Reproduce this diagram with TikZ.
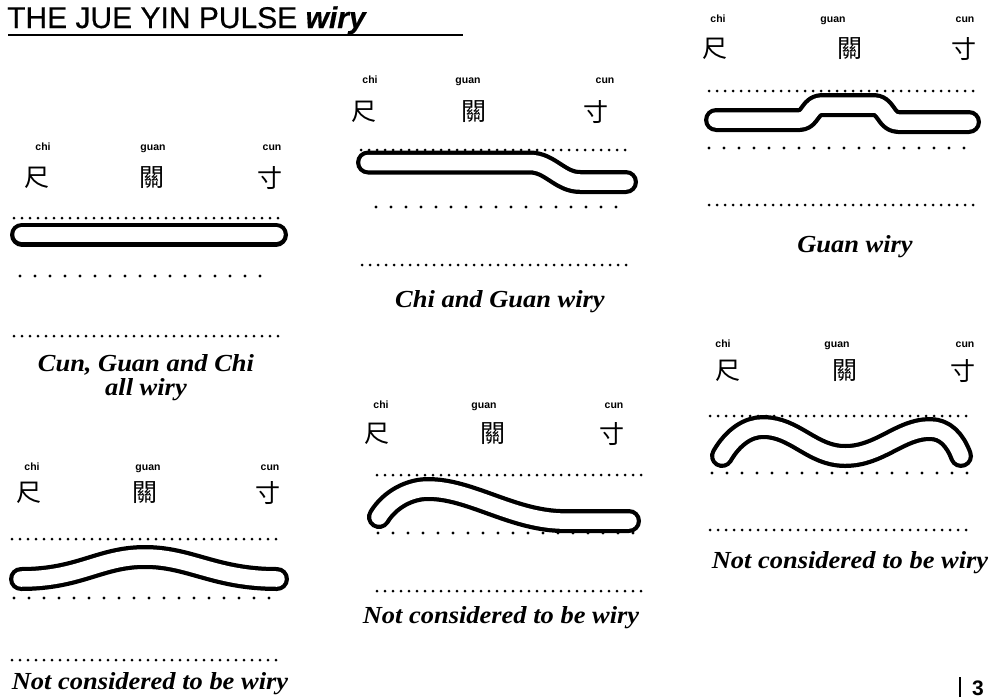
\documentclass[tikz,border=0pt]{standalone}
\usepackage{fontspec}
\setmainfont{Liberation Serif}
\setsansfont{Liberation Sans}
\newfontfamily\cjk{Noto Sans CJK TC}
\newfontfamily\capfont[FakeStretch=1.08]{Liberation Serif}
\newfontfamily\titlefont[FakeBold=0.5]{Liberation Sans}
\begin{document}
\begin{tikzpicture}[x=1pt,y=-1pt,
  pin/.style={font=\sffamily\bfseries\fontsize{10.5}{11}\selectfont, anchor=base},
  hz/.style={font=\cjk\fontsize{25}{25}\selectfont, anchor=center},
  captext/.style={font=\capfont\bfseries\itshape\fontsize{24.5}{23}\selectfont, align=center, anchor=base},
  densedots/.style={line width=3pt, line cap=round, dash pattern=on 0pt off 8pt},
  sparsedots/.style={line width=3.4pt, line cap=round, dash pattern=on 0pt off 15pt},
  tubeout/.style={line width=24pt, line cap=round, line join=round},
  tubein/.style={white, line width=15.5pt, line cap=round, line join=round}]
\useasboundingbox (0,0) rectangle (992,699);
% title
\node[anchor=base west, inner sep=0pt, font=\titlefont\fontsize{30}{30}\selectfont] (title) at (7,28) {THE JUE YIN PULSE \textbf{\textit{wiry}}};
\draw[line width=2.5pt] (8,35) -- (463,35);

% ---------- panel 1
\node[pin] (c1) at (43,150) {chi};
\node[pin] (g1) at (153,150) {guan};
\node[pin] (u1) at (272,150) {cun};
\node[hz] (hc1) at (37,178) {尺};
\node[hz] (hg1) at (152,178) {關};
\node[hz] (hu1) at (270,178) {寸};
\draw[densedots] (14,218) -- (285,218);
\draw[tubeout] (22,234.5) -- (276,234.5);
\draw[tubein] (22,234.5) -- (276,234.5);
\draw[sparsedots] (20,276) -- (272,276);
\draw[densedots] (14,336) -- (285,336);
\node[captext] (t1) at (146,371) {Cun, Guan and Chi};
\node[captext] (t1b) at (146,395) {all wiry};

% ---------- panel 2
\node[pin] (c2) at (370,83) {chi};
\node[pin] (g2) at (468,83) {guan};
\node[pin] (u2) at (605,83) {cun};
\node[hz] (hc2) at (364,112) {尺};
\node[hz] (hg2) at (474,112) {關};
\node[hz] (hu2) at (596,112) {寸};
\draw[densedots] (361,150) -- (632,150);
\draw[tubeout] (368,162.5) -- (530,162.5) .. controls (550,162.5) and (560,182) .. (580,182) -- (626,182);
\draw[tubein] (368,162.5) -- (530,162.5) .. controls (550,162.5) and (560,182) .. (580,182) -- (626,182);
\draw[sparsedots] (376,207) -- (620,207);
\draw[densedots] (362,265) -- (632,265);
\node[captext] (t2) at (500,307) {Chi and Guan wiry};

% ---------- panel 3
\node[pin] (c3) at (718,22) {chi};
\node[pin] (g3) at (833,22) {guan};
\node[pin] (u3) at (965,22) {cun};
\node[hz] (hc3) at (715,49) {尺};
\node[hz] (hg3) at (850,49) {關};
\node[hz] (hu3) at (964,49) {寸};
\draw[densedots] (709,91) -- (973,91);
\draw[tubeout] (716,120) -- (800,120) .. controls (810,120) and (810,105) .. (822,105) -- (874,105) .. controls (886,105) and (886,122) .. (898,122) -- (969,122);
\draw[tubein] (716,120) -- (800,120) .. controls (810,120) and (810,105) .. (822,105) -- (874,105) .. controls (886,105) and (886,122) .. (898,122) -- (969,122);
\draw[sparsedots] (709,148) -- (966,148);
\draw[densedots] (709,205) -- (973,205);
\node[captext] (t3) at (855,252) {Guan wiry};

% ---------- panel 4
\node[pin] (c4) at (32,470) {chi};
\node[pin] (g4) at (148,470) {guan};
\node[pin] (u4) at (270,470) {cun};
\node[hz] (hc4) at (29,493) {尺};
\node[hz] (hg4) at (145,493) {關};
\node[hz] (hu4) at (268,493) {寸};
\draw[densedots] (12,539) -- (280,539);
\draw[tubeout] (21,579) .. controls (80,579) and (100,557) .. (145,557) .. controls (190,557) and (215,579) .. (277,579);
\draw[tubein] (21,579) .. controls (80,579) and (100,557) .. (145,557) .. controls (190,557) and (215,579) .. (277,579);
\draw[sparsedots] (14,598) -- (280,598);
\draw[densedots] (12,660) -- (280,660);
\node[captext] (t4) at (150,689) {Not considered to be wiry};

% ---------- panel 5
\node[pin] (c5) at (381,408) {chi};
\node[pin] (g5) at (484,408) {guan};
\node[pin] (u5) at (614,408) {cun};
\node[hz] (hc5) at (377,434) {尺};
\node[hz] (hg5) at (493,434) {關};
\node[hz] (hu5) at (612,434) {寸};
\draw[densedots] (377,475) -- (645,475);
\draw[sparsedots] (378,533) -- (645,533);
\draw[tubeout] (379,517) .. controls (390,499) and (410,489) .. (428,489) .. controls (470,489) and (510,519) .. (560,521) -- (629,521);
\draw[tubein] (379,517) .. controls (390,499) and (410,489) .. (428,489) .. controls (470,489) and (510,519) .. (560,521) -- (629,521);
\draw[densedots] (377,591) -- (645,591);
\node[captext] (t5) at (501,623) {Not considered to be wiry};

% ---------- panel 6
\node[pin] (c6) at (723,347) {chi};
\node[pin] (g6) at (837,347) {guan};
\node[pin] (u6) at (965,347) {cun};
\node[hz] (hc6) at (728,371) {尺};
\node[hz] (hg6) at (845,371) {關};
\node[hz] (hu6) at (963,371) {寸};
\draw[densedots] (710,416) -- (973,416);
\draw[sparsedots] (712,473) -- (975,473);
\draw[tubeout] (722,456) .. controls (733,437) and (748,427) .. (763,427) .. controls (795,427) and (812,456) .. (845,456) .. controls (880,456) and (900,429) .. (930,429) .. controls (945,429) and (955,440) .. (961,456);
\draw[tubein] (722,456) .. controls (733,437) and (748,427) .. (763,427) .. controls (795,427) and (812,456) .. (845,456) .. controls (880,456) and (900,429) .. (930,429) .. controls (945,429) and (955,440) .. (961,456);
\draw[densedots] (710,530) -- (973,530);
\node[captext] (t6) at (850,568) {Not considered to be wiry};

% page number
\draw[line width=2.5pt] (960,677) -- (960,697);
\node[anchor=base west, inner sep=0pt, font=\sffamily\bfseries\fontsize{21}{21}\selectfont] (pg) at (972,695) {3};
\end{tikzpicture}
\end{document}
